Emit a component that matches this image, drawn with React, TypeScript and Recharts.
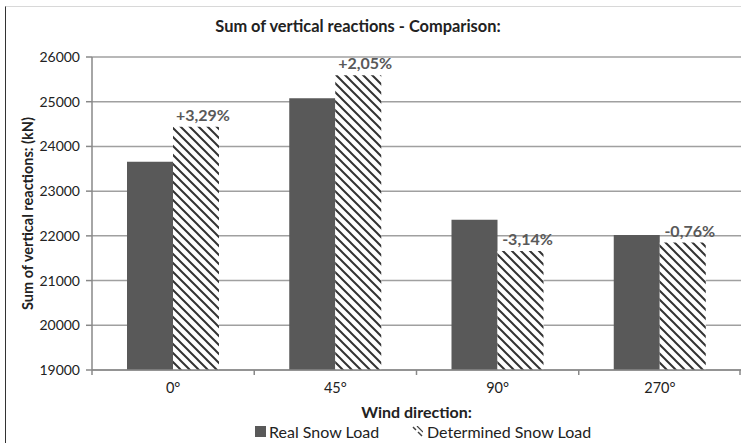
import React from "react";
import { BarChart, Bar, XAxis, YAxis, CartesianGrid, Legend, LabelList } from "recharts";

const categories = ["0°", "45°", "90°", "270°"];
const realSnow = [23660, 25080, 22360, 22020];
const determinedSnow = [24440, 25590, 21660, 21850];
const diffLabels = ["+3,29%", "+2,05%", "-3,14%", "-0,76%"];
const yTicks = [19000, 20000, 21000, 22000, 23000, 24000, 25000, 26000];

const data = categories.map((c, i) => ({
  name: c,
  real: realSnow[i],
  det: determinedSnow[i],
  pct: diffLabels[i],
}));

const W = 741;
const H = 443;
const LEFT = 8;
const YW = 84;
const PLOT_W = W - LEFT - YW;
const BW = PLOT_W / categories.length;
const FONT = "Lato, 'Open Sans', sans-serif";

const XTick = (props: any) => {
  const { x, y, payload, index } = props;
  return (
    <g>
      <line x1={x - BW / 2} y1={y} x2={x - BW / 2} y2={y + 5} stroke="#888" strokeWidth={1.5} />
      {index === categories.length - 1 && (
        <line x1={x + BW / 2 - 1} y1={y} x2={x + BW / 2 - 1} y2={y + 5} stroke="#888" strokeWidth={1.5} />
      )}
      <text x={x} y={y + 23} textAnchor="middle" fontSize={14.5} fill="#222" fontFamily={FONT}>
        {payload.value}
      </text>
    </g>
  );
};

const PctLabel = (props: any) => {
  const { x, y, width, value } = props;
  return (
    <text
      x={Number(x) + Number(width) / 2 + 7}
      y={Number(y) - 6}
      textAnchor="middle"
      fontWeight={700}
      fontSize={16}
      fill="#595959"
      fontFamily={FONT}
    >
      {value}
    </text>
  );
};

const renderLegend = () => (
  <div style={{ position: "relative", height: 22, width: W, fontFamily: FONT, fontSize: 16, color: "#222" }}>
    <div style={{ position: "absolute", left: 255, top: 1, display: "flex", alignItems: "center" }}>
      <svg width={11} height={11} style={{ marginRight: 3 }}>
        <rect x={0} y={0} width={11} height={11} fill="#595959" />
      </svg>
      <span>Real Snow Load</span>
    </div>
    <div style={{ position: "absolute", left: 412, top: 1, display: "flex", alignItems: "center" }}>
      <svg width={11} height={11} style={{ marginRight: 4 }}>
        <line x1={1} y1={1} x2={4} y2={4} stroke="#404040" strokeWidth={1.5} />
        <line x1={6} y1={6} x2={10} y2={10} stroke="#404040" strokeWidth={1.5} />
        <line x1={5} y1={0} x2={11} y2={6} stroke="#404040" strokeWidth={1.2} />
      </svg>
      <span>Determined Snow Load</span>
    </div>
  </div>
);

export default function App() {
  return (
    <div style={{ position: "absolute", left: 0, top: 0, width: W, height: H, background: "#fff", fontFamily: FONT }}>
      <div
        style={{
          position: "absolute",
          left: 5,
          top: 6,
          width: W - 5,
          height: H - 6,
          borderLeft: "1.5px solid #333",
          borderTop: "1px solid #d8d8d8",
          boxSizing: "border-box",
        }}
      />
      <div
        style={{
          position: "absolute",
          left: 0,
          top: 16,
          width: 716,
          textAlign: "center",
          fontWeight: 700,
          fontSize: 16.4,
          lineHeight: "20px",
          color: "#222",
        }}
      >
        Sum of vertical reactions - Comparison:
      </div>
      <div style={{ position: "absolute", left: 0, top: 0 }}>
        <BarChart
          width={W}
          height={H}
          data={data}
          margin={{ top: 57, right: 0, bottom: 0, left: LEFT }}
          barGap={0}
          barSize={46}
        >
          <defs>
            <pattern id="hatch" width={9} height={9} patternUnits="userSpaceOnUse">
              <rect x={0} y={0} width={9} height={9} fill="#fff" />
              <path d="M-2,-2 L11,11 M-2,7 L2,11 M7,-2 L11,2" stroke="#333" strokeWidth={2} />
            </pattern>
          </defs>
          <CartesianGrid vertical={false} stroke="#a0a0a0" strokeWidth={1.5} />
          <XAxis
            dataKey="name"
            height={51}
            tickLine={false}
            tickSize={0}
            tickMargin={0}
            axisLine={{ stroke: "#888", strokeWidth: 1.5 }}
            tick={<XTick />}
            interval={0}
            label={{
              value: "Wind direction:",
              position: "insideBottom",
              offset: 3,
              style: { fontWeight: 700, fontSize: 16, fill: "#222", fontFamily: FONT },
            }}
          />
          <YAxis
            width={YW}
            domain={[19000, 26000]}
            ticks={yTicks}
            interval={0}
            tickSize={6}
            tickMargin={6}
            tickLine={{ stroke: "#888", strokeWidth: 1.5 }}
            axisLine={{ stroke: "#888", strokeWidth: 1.5 }}
            tick={{ fontSize: 14, fill: "#222", fontFamily: FONT }}
            label={{
              value: "Sum of vertical reactions: (kN)",
              angle: -90,
              position: "insideLeft",
              offset: 20,
              style: { textAnchor: "middle", fontWeight: 700, fontSize: 14.5, fill: "#222", fontFamily: FONT },
            }}
          />
          <Legend
            verticalAlign="bottom"
            height={22}
            content={renderLegend}
            wrapperStyle={{ left: 0, width: W, bottom: 0 }}
          />
          <Bar dataKey="real" fill="#595959" isAnimationActive={false} />
          <Bar dataKey="det" fill="url(#hatch)" isAnimationActive={false}>
            <LabelList dataKey="pct" content={<PctLabel />} />
          </Bar>
        </BarChart>
      </div>
    </div>
  );
}
